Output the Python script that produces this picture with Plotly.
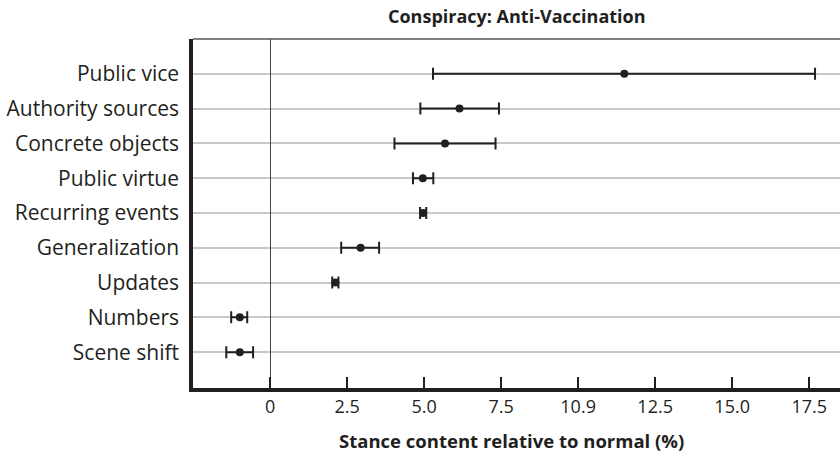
import plotly.graph_objects as go

# Data (bottom to top)
categories = ["Scene shift", "Numbers", "Updates", "Generalization", "Recurring events",
              "Public virtue", "Concrete objects", "Authority sources", "Public vice"]
means = [-0.98, -0.98, 2.12, 2.94, 4.97, 4.96, 5.68, 6.15, 11.50]
lower = [-1.42, -1.26, 2.02, 2.31, 4.87, 4.64, 4.04, 4.88, 5.29]
upper = [-0.55, -0.74, 2.22, 3.54, 5.07, 5.30, 7.32, 7.43, 17.69]

tick_vals = [0, 2.5, 5.0, 7.5, 10.0, 12.5, 15.0, 17.5]
tick_text = ["0", "2.5", "5.0", "7.5", "10.9", "12.5", "15.0", "17.5"]

plus = [u - m for u, m in zip(upper, means)]
minus = [m - l for m, l in zip(means, lower)]

FONT = "Open Sans"
DARK = "#231f20"
PLOT_H = 349

fig = go.Figure()
fig.add_trace(go.Scatter(
    x=means, y=categories, mode="markers",
    marker=dict(color=DARK, size=8),
    error_x=dict(type="data", symmetric=False, array=plus, arrayminus=minus,
                 color=DARK, thickness=2, width=6),
    showlegend=False,
))

fig.update_layout(
    width=840, height=457,
    margin=dict(l=193, r=0, t=39, b=69),
    plot_bgcolor="white", paper_bgcolor="white",
    font=dict(family=FONT, color=DARK, size=18),
    xaxis=dict(
        range=[-2.5, 18.5], tickvals=tick_vals, ticktext=tick_text,
        showgrid=False, zeroline=True, zerolinecolor="#444444", zerolinewidth=1.2,
        showline=True, linecolor=DARK, linewidth=3.5,
        ticks="inside", ticklen=11, tickwidth=1.5, tickcolor=DARK,
        tickfont=dict(size=18, family=FONT, color=DARK),
    ),
    yaxis=dict(
        type="category", categoryorder="array", categoryarray=categories,
        range=[-1.03, 9.0],
        showgrid=True, gridcolor="#c8c8c8", gridwidth=1.5,
        showline=True, linecolor=DARK, linewidth=3.5,
        ticks="", ticklabelstandoff=6,
        tickfont=dict(size=21, family=FONT, color=DARK),
    ),
    shapes=[dict(type="line", xref="paper", yref="paper", x0=0, x1=1, y0=1, y1=1,
                 line=dict(color="#555555", width=1.5))],
    annotations=[
        dict(text="<b>Conspiracy: Anti-Vaccination</b>", xref="paper", yref="paper",
             x=0.5, y=1 + 23 / PLOT_H, xanchor="center", yanchor="middle", showarrow=False,
             borderpad=0, font=dict(size=18, family=FONT, color=DARK)),
        dict(text="<b>Stance content relative to normal (%)</b>", xref="paper", yref="paper",
             x=0.493, y=-52 / PLOT_H, xanchor="center", yanchor="middle", showarrow=False,
             font=dict(size=18.5, family=FONT, color=DARK)),
    ],
)

fig.write_html("out.html",
               config={"displayModeBar": False},
               post_script="document.body.style.margin='0';document.body.style.overflow='hidden';")
